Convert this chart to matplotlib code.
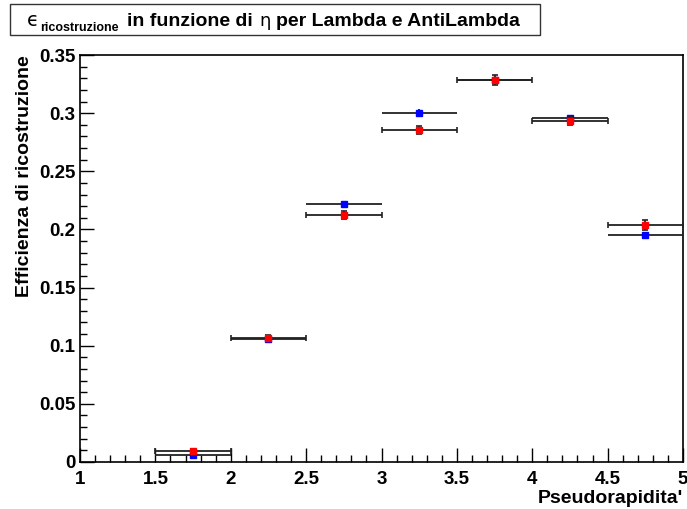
import numpy as np
import matplotlib
matplotlib.use("Agg")
import matplotlib.pyplot as plt
from matplotlib.patches import Rectangle
from matplotlib.ticker import MultipleLocator

plt.rcParams['font.family'] = ['Liberation Sans', 'DejaVu Sans']

# eta bins (centres and half widths)
eta = [1.75, 2.25, 2.75, 3.25, 3.75, 4.25, 4.75]
half_bin = [0.25] * 7

# efficiency for Lambda (red) and AntiLambda (blue)
eff_lambda = [0.0095, 0.107, 0.2124, 0.2855, 0.3285, 0.2932, 0.2038]
err_lambda = [0.0015, 0.0025, 0.0035, 0.0035, 0.004, 0.0035, 0.004]
eff_anti = [0.0062, 0.1062, 0.2219, 0.3005, 0.3285, 0.2958, 0.1952]
err_anti = [0.0012, 0.002, 0.0025, 0.003, 0.003, 0.0025, 0.003]

W, H = 687, 509
fig = plt.figure(figsize=(W / 100, H / 100), dpi=100)
ax = fig.add_axes([80 / W, 47 / H, 603 / W, 407 / H])

ax.errorbar(eta, eff_anti, xerr=half_bin, yerr=err_anti, fmt='s', ms=4,
            color='blue', mec='blue', ecolor='#222222', elinewidth=1.3,
            capsize=0, zorder=3)
ax.errorbar(eta, eff_lambda, xerr=half_bin, yerr=err_lambda, fmt='s', ms=4,
            color='red', mec='red', ecolor='#222222', elinewidth=1.3,
            capsize=2.5, capthick=1.2, zorder=4)

ax.set_xlim(1, 5)
ax.set_ylim(0, 0.35)
ax.xaxis.set_minor_locator(MultipleLocator(0.1))
ax.yaxis.set_minor_locator(MultipleLocator(0.01))
ax.tick_params(which='both', direction='in', top=False, right=False, width=1)
ax.tick_params(which='major', length=10)
ax.tick_params(which='minor', length=5)
ax.set_xticks(np.arange(1, 5.01, 0.5))
ax.set_xticklabels(['1', '1.5', '2', '2.5', '3', '3.5', '4', '4.5', '5'],
                   fontweight='bold', fontsize=13.5)
ax.set_yticks(np.arange(0, 0.351, 0.05))
ax.set_yticklabels(['0', '0.05', '0.1', '0.15', '0.2', '0.25', '0.3', '0.35'],
                   fontweight='bold', fontsize=13.5)
ax.tick_params(axis='x', pad=6.5)
ax.tick_params(axis='y', pad=3.5)
for s in ax.spines.values():
    s.set_linewidth(1.2)

fig.text(25 / W, 1 - 55 / H, 'Efficienza di ricostruzione', rotation=90,
         ha='center', va='top', fontsize=14, fontweight='bold')
fig.text(683 / W, 1 - 503 / H, "Pseudorapidita'", ha='right', va='baseline',
         fontsize=14, fontweight='bold')

# title box with epsilon, subscript and eta as separate pieces
fig.patches.append(Rectangle((10 / W, 1 - 35 / H), 530 / W, 31 / H,
                             transform=fig.transFigure, fill=True,
                             facecolor='white', edgecolor='#333333', lw=1))
base = 1 - 26 / H
fig.text(27 / W, base, '\u03f5', ha='left', va='baseline', fontsize=14,
         family='DejaVu Sans')
fig.text(40 / W, 1 - 31 / H, 'ricostruzione', ha='left', va='baseline',
         fontsize=9, fontweight='bold')
fig.text(127 / W, base, 'in funzione di', ha='left', va='baseline',
         fontsize=14, fontweight='bold')
fig.text(259 / W, base, '\u03b7', ha='left', va='baseline', fontsize=13,
         family='DejaVu Sans')
fig.text(276 / W, base, 'per Lambda e AntiLambda', ha='left', va='baseline',
         fontsize=14, fontweight='bold')

fig.savefig('out.png', dpi=100)
